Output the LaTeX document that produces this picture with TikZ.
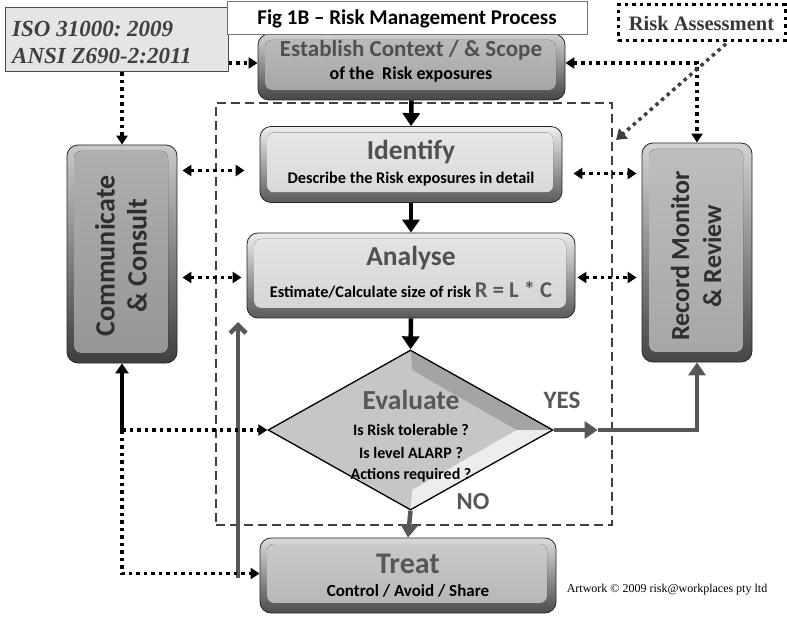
\documentclass[tikz,border=0pt]{standalone}
\usepackage{fontspec}
\setmainfont{Carlito}
\newfontfamily\timesfont{Liberation Serif}
\usetikzlibrary{arrows.meta,shapes.geometric,calc}
\frenchspacing

\definecolor{inkgrey}{HTML}{505050}
\definecolor{flowgrey}{HTML}{575757}
\definecolor{estface}{HTML}{ABABAB}
\definecolor{idface}{HTML}{E2E2E2}
\definecolor{anface}{HTML}{DEDEDE}
\definecolor{trface}{HTML}{BEBEBE}
\definecolor{comface}{HTML}{9C9C9C}
\definecolor{recface}{HTML}{AEAEAE}
\definecolor{evalface}{HTML}{C6C6C6}
\definecolor{evaldark}{HTML}{A4A4A4}
\definecolor{evallight}{HTML}{EDEDED}

\tikzset{
  bevel/.style={rounded corners=11pt, draw=black!85, line width=0.8pt,
    top color=#1!55!white, bottom color=#1!40!black,
    path picture={\fill[rounded corners=7pt, top color=#1!80!white, bottom color=#1!95!black]
      ([shift={(7pt,-6pt)}]path picture bounding box.north west) rectangle
      ([shift={(-9pt,10pt)}]path picture bounding box.south east);}},
  headtext/.style={text=inkgrey, font=\fontsize{#1}{#1}\selectfont\bfseries},
  subtext/.style={text=black, font=\fontsize{#1}{#1}\selectfont\bfseries},
  sidetext/.style={rotate=90, align=center, text=black!82, font=\fontsize{#1}{32}\selectfont\bfseries},
  dotline/.style={draw=black, line width=3.5pt, dash pattern=on 3.5pt off 4pt},
  dottip/.style={-{Triangle[length=9pt,width=11pt]}},
  dotboth/.style={{Triangle[length=9pt,width=11pt]}-{Triangle[length=9pt,width=11pt]}},
  flowarrow/.style={draw=black, line width=4.5pt, -{Triangle[length=13pt,width=17pt]}},
  greyarrow/.style={draw=flowgrey, line width=4.5pt, -{Triangle[length=13pt,width=17pt]}},
  frame/.style={draw=black!75, line width=2.5pt, dash pattern=on 9pt off 5pt},
}

\begin{document}
\begin{tikzpicture}[x=1pt,y=-1pt]
\useasboundingbox (0,0) rectangle (787,620);

% dashed frame around the assessment stages
\node[frame, minimum width=396, minimum height=422, inner sep=0] (frame) at (414,314) {};

% process boxes
\node[bevel=estface, minimum width=307, minimum height=66] (est) at (411.5,67) {};
\node[headtext=23] (esttitle) at (411,50) {Establish Context / \& Scope};
\node[subtext=18] (estsub) at (411,75) {of the~ Risk exposures};

\node[bevel=idface, minimum width=302, minimum height=76] (iden) at (411,164.5) {};
\node[headtext=27.5] (idtitle) at (411,152) {Identify};
\node[subtext=16.3] (idsub) at (411,179) {Describe the Risk exposures in detail};

\node[bevel=anface, minimum width=328, minimum height=85] (ana) at (411,275.5) {};
\node[headtext=27.5] (antitle) at (411,258) {Analyse};
\node[subtext=16.3] (ansub) at (411,290) {Estimate/Calculate size of risk {\color{flowgrey}\fontsize{22.6}{23}\selectfont R = L * C}};

\node[bevel=trface, minimum width=296, minimum height=75] (treat) at (408,575.5) {};
\node[headtext=30, text=flowgrey] (trtitle) at (408,564) {Treat};
\node[subtext=17] (trsub) at (408,591) {Control / Avoid / Share};

% side columns
\node[bevel=comface, minimum width=110, minimum height=218] (comm) at (122,254) {};
\node[sidetext=28] (commtxt) at (121,256) {Communicate\\ \& Consult};
\node[bevel=recface, minimum width=110, minimum height=219] (rec) at (697,252.5) {};
\node[sidetext=26] (rectxt) at (696,256) {Record Monitor\\ \& Review};

% evaluation decision
\node[diamond, minimum width=285, minimum height=160, inner sep=0, fill=evalface, draw=black, line width=1.3pt,
  path picture={
    \coordinate (pn) at (path picture bounding box.north);
    \coordinate (pe) at (path picture bounding box.east);
    \coordinate (ps) at (path picture bounding box.south);
    \fill[evaldark] (pn) -- (pe) -- ($(pe)+(-36,0)$) -- ($(pn)+(2,20)$) -- cycle;
    \fill[evallight] (pe) -- (ps) -- ($(ps)+(2,-20)$) -- ($(pe)+(-36,0)$) -- cycle;
  }] (eval) at (410.5,430) {};
\node[headtext=27.5, text=flowgrey] (evtitle) at (411,400) {Evaluate};
\node[subtext=16] (evq1) at (411,430) {Is Risk tolerable ?};
\node[subtext=16] (evq2) at (411,452.5) {Is level ALARP ?};
\node[subtext=16] (evq3) at (411,475) {Actions required ?};
\node[headtext=25, text=flowgrey] (yes) at (562,400) {YES};
\node[headtext=24.5, text=flowgrey] (no) at (473,502) {NO};

% standards and headings
\node[draw=black!70, line width=1pt, fill=black!10, minimum width=223, minimum height=64] (iso) at (116.5,40) {};
\node[anchor=west, align=left, inner sep=0, text=black!75, font=\timesfont\fontsize{23}{27}\selectfont\bfseries\itshape]
  (isotxt) at (12,43) {ISO 31000: 2009\\ANSI Z690-2:2011};
\node[draw=black!55, line width=1pt, fill=white, minimum width=360, minimum height=33,
  font=\fontsize{21}{22}\selectfont\bfseries] (title) at (407,18.5) {Fig 1B -- Risk Management Process};
\node[dotline, line width=3pt, minimum width=167, minimum height=36, text=black!78,
  font=\timesfont\fontsize{20.5}{22}\selectfont\bfseries] (ra) at (701.5,23) {Risk Assessment};
\node[font=\timesfont\fontsize{12}{13}\selectfont] (credit) at (667,590) {Artwork \textcopyright\ 2009 risk@workplaces pty ltd};

% main flow
\draw[flowarrow] (est.south) -- (iden.north);
\draw[flowarrow] (iden.south) -- (ana.north);
\draw[flowarrow] (ana.south) -- (eval.north);
\draw[greyarrow] (eval.south) -- (treat.north);

% YES route to recording
\coordinate (yesmid) at ($(eval.east)+(44,0)$);
\draw[greyarrow] (eval.east) -- (yesmid);
\draw[greyarrow] (yesmid) -| (rec.south);

% feedback from treatment
\coordinate (fbtop) at (238,322);
\draw[draw=flowgrey, line width=4.5pt, -{Straight Barb[length=8pt,width=16pt]}] ([yshift=-2pt]treat.west -| fbtop) -- (fbtop);

% standards feeding the process
\draw[dotline, dottip] ([yshift=4pt]iso.east |- est.west) -- ([yshift=4pt]est.west);
\draw[dotline, dottip] (comm.north |- iso.south) -- (comm.north);
\draw[dotline, dotboth] ([yshift=4pt]est.east) -| (rec.north);
\coordinate (ratip) at (616,140);
\draw[dotline, draw=black!75, -{Triangle[length=10pt,width=13pt]}, shorten <=2pt] ($(ra.south)+(26,0)$) -- (ratip);

% communication and review links
\draw[dotline, dotboth, shorten <=5pt, shorten >=15pt] ([yshift=-6pt]comm.east |- iden.west) -- ([yshift=-6pt]iden.west);
\draw[dotline, dotboth, shorten <=5pt, shorten >=5pt] ([yshift=-2pt]comm.east |- ana.west) -- ([yshift=-2pt]ana.west);
\draw[dotline, dotboth, shorten <=11pt, shorten >=5pt] ([yshift=-9pt]iden.east) -- ([yshift=-9pt]rec.west |- iden.east);
\draw[dotline, dotboth, shorten <=2pt, shorten >=5pt] ([yshift=-2pt]ana.east) -- ([yshift=-2pt]rec.west |- ana.east);

% communication with evaluation and treatment
\coordinate (cj) at (comm.south |- eval.west);
\draw[draw=black, line width=3.5pt, -{Triangle[length=10pt,width=13pt]}] (cj) -- (comm.south);
\draw[dotline, dottip] (cj) -- (eval.west);
\draw[dotline, dottip] (cj) |- ([yshift=2pt]treat.west);
\end{tikzpicture}
\end{document}
